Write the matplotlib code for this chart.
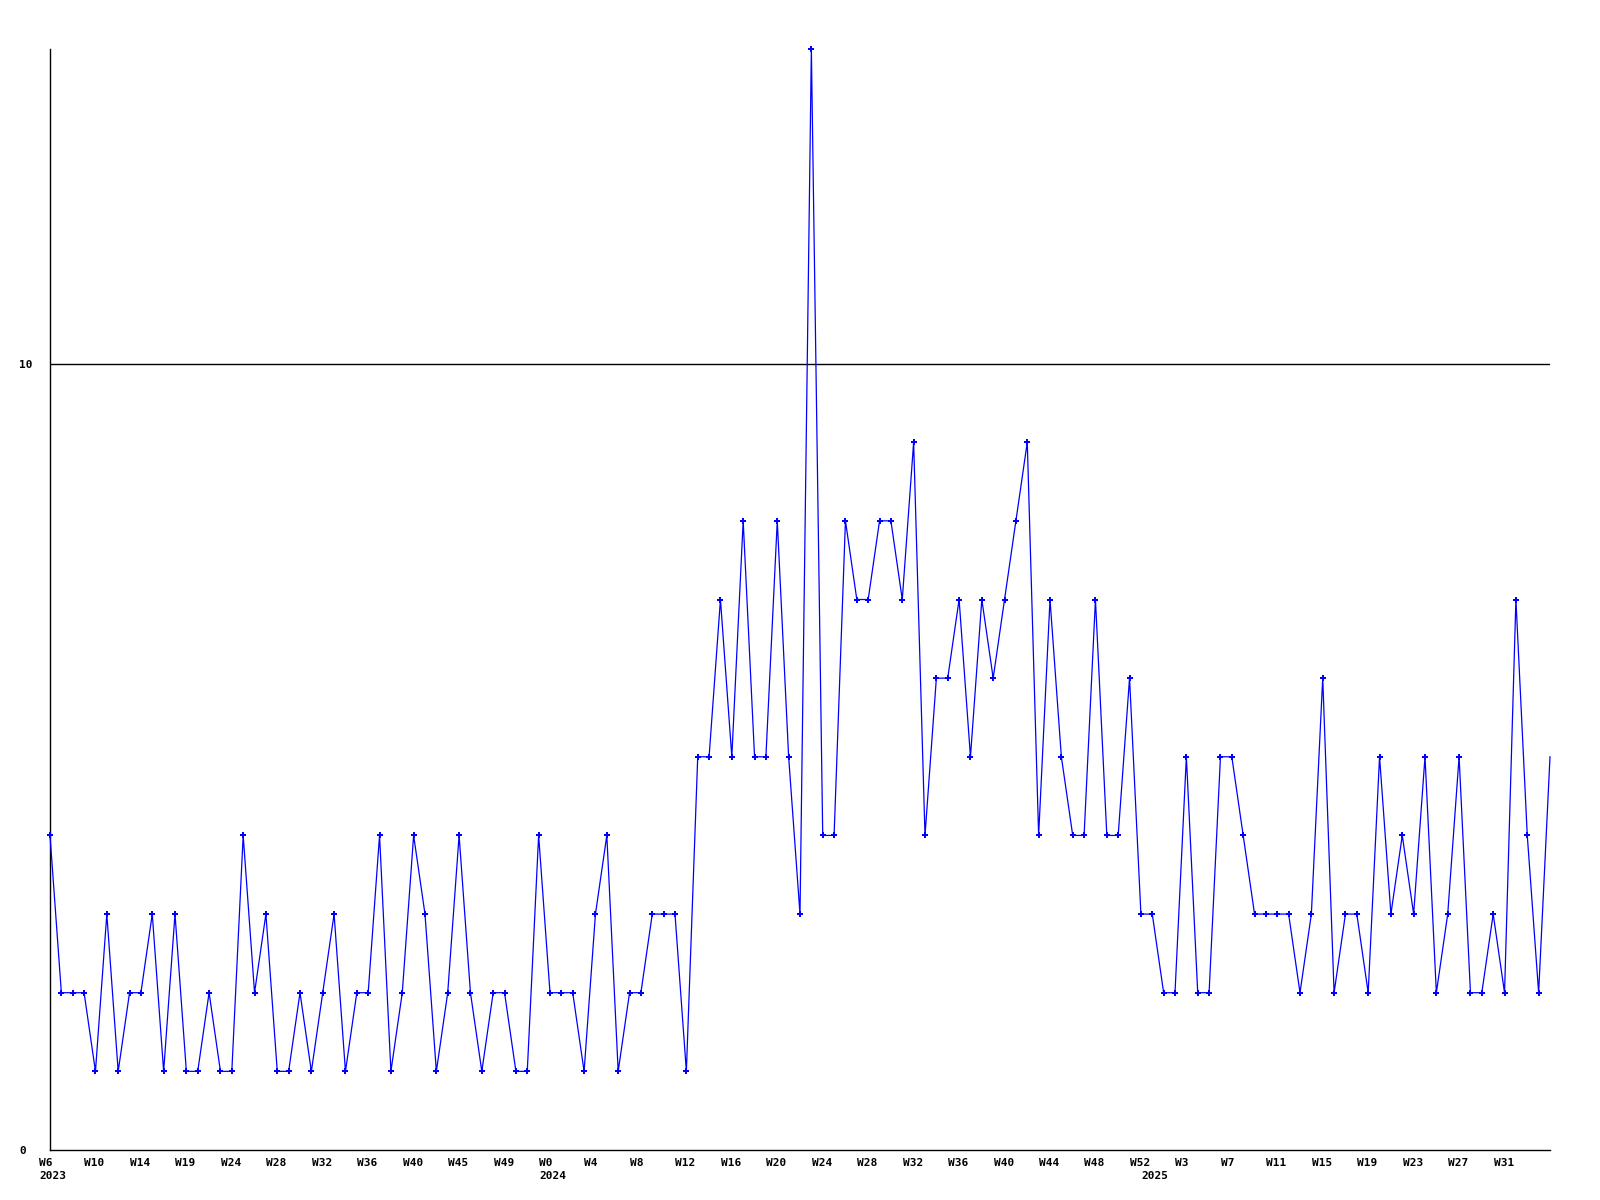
import matplotlib
matplotlib.use("Agg")
import matplotlib.pyplot as plt
import matplotlib.transforms as mtransforms

values = [
    4, 2, 2, 2, 1, 3, 1, 2, 2, 3, 1, 3, 1, 1, 2, 1, 1, 4, 2, 3, 1, 1,
    2, 1, 2, 3, 1, 2, 2, 4, 1, 2, 4, 3, 1, 2, 4, 2, 1, 2, 2, 1, 1, 4, 2, 2,
    2, 1, 3, 4, 1, 2, 2, 3, 3, 3, 1, 5, 5, 7, 5, 8, 5, 5, 8, 5, 3, 14, 4, 4, 8,
    7, 7, 8, 8, 7, 9, 4, 6, 6, 7, 5, 7, 6, 7, 8, 9, 4, 7, 5, 4, 4, 7, 4, 4, 6,
    3, 3, 2, 2, 5, 2, 2, 5, 5, 4, 3, 3, 3, 3, 2, 3, 6, 2, 3, 3, 2, 5, 3, 4,
    3, 5, 2, 3, 5, 2, 2, 3, 2, 7, 4, 2, 5,
]

tick_positions = list(range(0, 129, 4))
tick_labels = [
    "W6", "W10", "W14", "W19", "W24", "W28", "W32", "W36", "W40", "W45", "W49",
    "W0", "W4", "W8", "W12", "W16", "W20", "W24", "W28", "W32", "W36", "W40",
    "W44", "W48", "W52", "W3", "W7", "W11", "W15", "W19", "W23", "W27", "W31",
]
year_positions = [0, 44, 97]
year_labels = ["2023", "2024", "2025"]
y_ticks = [0, 10]
y_tick_labels = ["0", "10"]

fig = plt.figure(figsize=(16, 12), dpi=100)
ax = fig.add_axes([50 / 1600, 1 - 1150 / 1200, 1500 / 1600, (1150 - 49) / 1200])

x = list(range(len(values)))
ax.plot(x, values, color="#0000ff", lw=0.9, marker="P", markersize=4,
        markeredgewidth=0, zorder=3, clip_on=False,
        markevery=list(range(len(values) - 1)))

ax.set_xlim(0, len(values) - 1)
ax.set_ylim(0, 14)
ax.axhline(10, color="black", lw=1.0, zorder=2)

for s in ["top", "right"]:
    ax.spines[s].set_visible(False)
for s in ["left", "bottom"]:
    ax.spines[s].set_linewidth(1.0)
    ax.spines[s].set_color("black")

font = dict(family="DejaVu Sans Mono", weight="bold", size=8)

ax.set_xticks(tick_positions)
ax.set_xticklabels(tick_labels, **font)
ax.tick_params(axis="x", length=0, pad=6)
offx = mtransforms.ScaledTranslation(-11 / 100, 0, fig.dpi_scale_trans)
for lab in ax.xaxis.get_majorticklabels():
    lab.set_horizontalalignment("left")
    lab.set_transform(lab.get_transform() + offx)

year_tr = mtransforms.blended_transform_factory(ax.transData, ax.transAxes) + \
    mtransforms.ScaledTranslation(-11 / 100, -21 / 100, fig.dpi_scale_trans)
for xp, yl in zip(year_positions, year_labels):
    ax.text(xp, 0, yl, transform=year_tr, ha="left", va="top", **font)

ax.set_yticks(y_ticks)
ax.set_yticklabels(y_tick_labels, **font)
ax.tick_params(axis="y", length=0, pad=0)
offy = mtransforms.ScaledTranslation(-31 / 100, 0, fig.dpi_scale_trans)
for lab in ax.yaxis.get_majorticklabels():
    lab.set_horizontalalignment("left")
    lab.set_transform(lab.get_transform() + offy)

fig.savefig("out.png", dpi=100, facecolor="white")
